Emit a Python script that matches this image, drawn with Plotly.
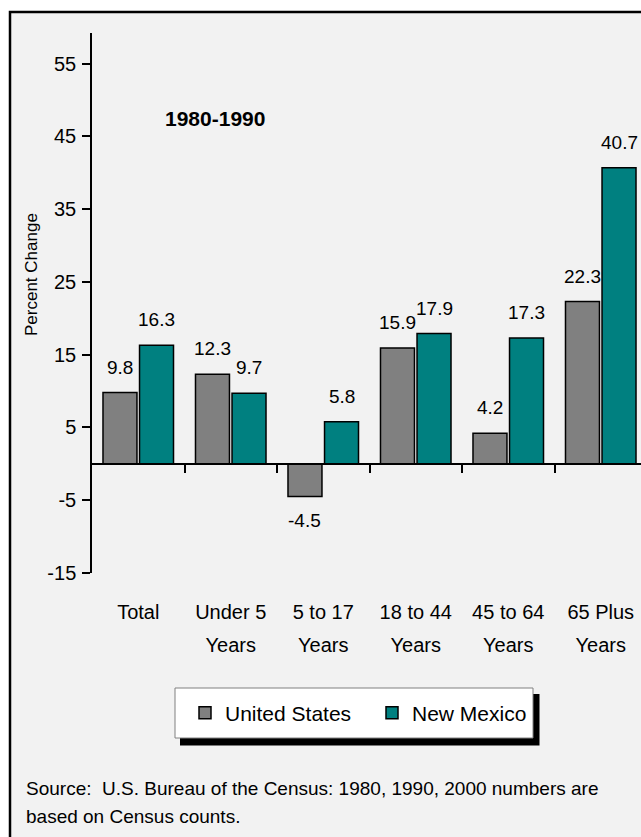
import plotly.graph_objects as go

# datos
categorias = ["Total", "Under 5<br>Years", "5 to 17<br>Years", "18 to 44<br>Years",
              "45 to 64<br>Years", "65 Plus<br>Years"]
estados_unidos = [9.8, 12.3, -4.5, 15.9, 4.2, 22.3]
nuevo_mexico = [16.3, 9.7, 5.8, 17.9, 17.3, 40.7]
ticks_y = [-15, -5, 5, 15, 25, 35, 45, 55]
rango_y = [-15, 59.2]

GRIS = "#808080"
TEAL = "#008080"
FUENTE = "Liberation Sans, Arial"

ANCHO, ALTO = 641, 837
# area del grafico en pixeles
L, R, T, B = 92, 641, 33, 573
ANCHO_CAT = 92.5


def px_x(x):
    return (x - L) / (R - L)


def px_y(y):
    return (B - y) / (B - T)


bargap = 0.21
rango_x = [-0.5, -0.5 + (R - L) / ANCHO_CAT]
desplaz = (1 - bargap) / 4

# etiquetas con letra de 20 px pero interlineado de una de 25 px
etiquetas_x = ["<br>".join(f"<span style='font-size:20px'>{p}</span>" for p in c.split("<br>"))
               for c in categorias]

fig = go.Figure()
fig.add_trace(go.Bar(
    x=categorias, y=estados_unidos, name="United States",
    marker=dict(color=GRIS, line=dict(color="black", width=1.5)),
))
fig.add_trace(go.Bar(
    x=categorias, y=nuevo_mexico, name="New Mexico",
    marker=dict(color=TEAL, line=dict(color="black", width=1.5)),
))
# eje auxiliar para la linea del cero con marcas entre categorias
limites = [i + 0.5 for i in range(len(categorias) - 1)]
fig.add_trace(go.Scatter(
    x=limites, y=[0] * len(limites), xaxis="x2", mode="markers",
    marker=dict(opacity=0), showlegend=False, hoverinfo="skip",
))

anotaciones = []
for serie, signo in ((estados_unidos, -1), (nuevo_mexico, 1)):
    for i, v in enumerate(serie):
        anotaciones.append(dict(
            x=i + signo * desplaz, y=v, xref="x", yref="y", text=f"{v}",
            showarrow=False, font=dict(family=FUENTE, size=19, color="black"),
            yanchor="bottom" if v >= 0 else "top",
            yshift=13 if v >= 0 else -11,
        ))

anotaciones += [
    dict(x=px_x(163), y=px_y(119), xref="paper", yref="paper", text="<b>1980-1990</b>",
         showarrow=False, xanchor="left", yanchor="middle",
         font=dict(family=FUENTE, size=21, color="black")),
    dict(x=px_x(31), y=px_y(275), xref="paper", yref="paper", text="Percent Change",
         showarrow=False, textangle=-90, xanchor="center", yanchor="middle",
         font=dict(family=FUENTE, size=17, color="black")),
    dict(x=px_x(24), y=px_y(788), xref="paper", yref="paper",
         text="Source:\u00a0 U.S. Bureau of the Census: 1980, 1990, 2000 numbers are",
         showarrow=False, xanchor="left", yanchor="middle",
         font=dict(family=FUENTE, size=19, color="black")),
    dict(x=px_x(24), y=px_y(817), xref="paper", yref="paper",
         text="based on Census counts.",
         showarrow=False, xanchor="left", yanchor="middle",
         font=dict(family=FUENTE, size=19, color="black")),
]

formas = [
    # marco
    dict(type="rect", xref="paper", yref="paper", layer="below",
         x0=px_x(10), y0=px_y(12), x1=px_x(700), y1=px_y(900),
         fillcolor="#f2f2f2", line=dict(color="black", width=2.5)),
    # sombra y caja de la leyenda
    dict(type="rect", xref="paper", yref="paper", layer="above",
         x0=px_x(180), y0=px_y(694), x1=px_x(539.5), y1=px_y(745.5),
         fillcolor="black", line=dict(width=0)),
    dict(type="rect", xref="paper", yref="paper", layer="above",
         x0=px_x(175), y0=px_y(688), x1=px_x(533), y1=px_y(738),
         fillcolor="white", line=dict(color=GRIS, width=1)),
]

fig.update_layout(
    width=ANCHO, height=ALTO,
    margin=dict(l=L, r=ANCHO - R, t=T, b=ALTO - B, pad=0),
    paper_bgcolor="white",
    plot_bgcolor="rgba(0,0,0,0)",
    barmode="group", bargap=bargap, bargroupgap=0.07,
    font=dict(family=FUENTE, color="black"),
    showlegend=True,
    legend=dict(
        orientation="h", x=px_x(185), xanchor="left", y=px_y(713), yanchor="middle",
        bgcolor="rgba(0,0,0,0)", borderwidth=0,
        font=dict(family=FUENTE, size=21, color="black"),
        entrywidth=142, entrywidthmode="pixels",
    ),
    xaxis=dict(
        range=rango_x, showline=False, ticks="", showgrid=False, zeroline=False,
        tickangle=0, tickfont=dict(family=FUENTE, size=25, color="black"),
        tickvals=categorias, ticktext=etiquetas_x,
        ticklabelstandoff=20,
    ),
    xaxis2=dict(
        overlaying="x", anchor="free",
        position=(0 - rango_y[0]) / (rango_y[1] - rango_y[0]),
        range=rango_x, showline=True, linecolor="black", linewidth=2,
        ticks="outside", ticklen=8, tickwidth=1.5, tickcolor="black",
        tickvals=limites, showticklabels=False, showgrid=False, zeroline=False,
    ),
    yaxis=dict(
        range=rango_y, tickvals=ticks_y, ticktext=[str(v) for v in ticks_y],
        showline=True, linecolor="black", linewidth=1.5,
        ticks="outside", ticklen=8, tickwidth=1.5, tickcolor="black",
        showgrid=False, zeroline=False,
        tickfont=dict(family=FUENTE, size=20, color="black"),
        ticklabelstandoff=2,
    ),
    annotations=anotaciones,
    shapes=formas,
)

# sin el margen por defecto del body la figura ocupa la ventana exacta
fig.write_html("out.html", config={"displayModeBar": False},
               post_script="document.body.style.margin='0';")
